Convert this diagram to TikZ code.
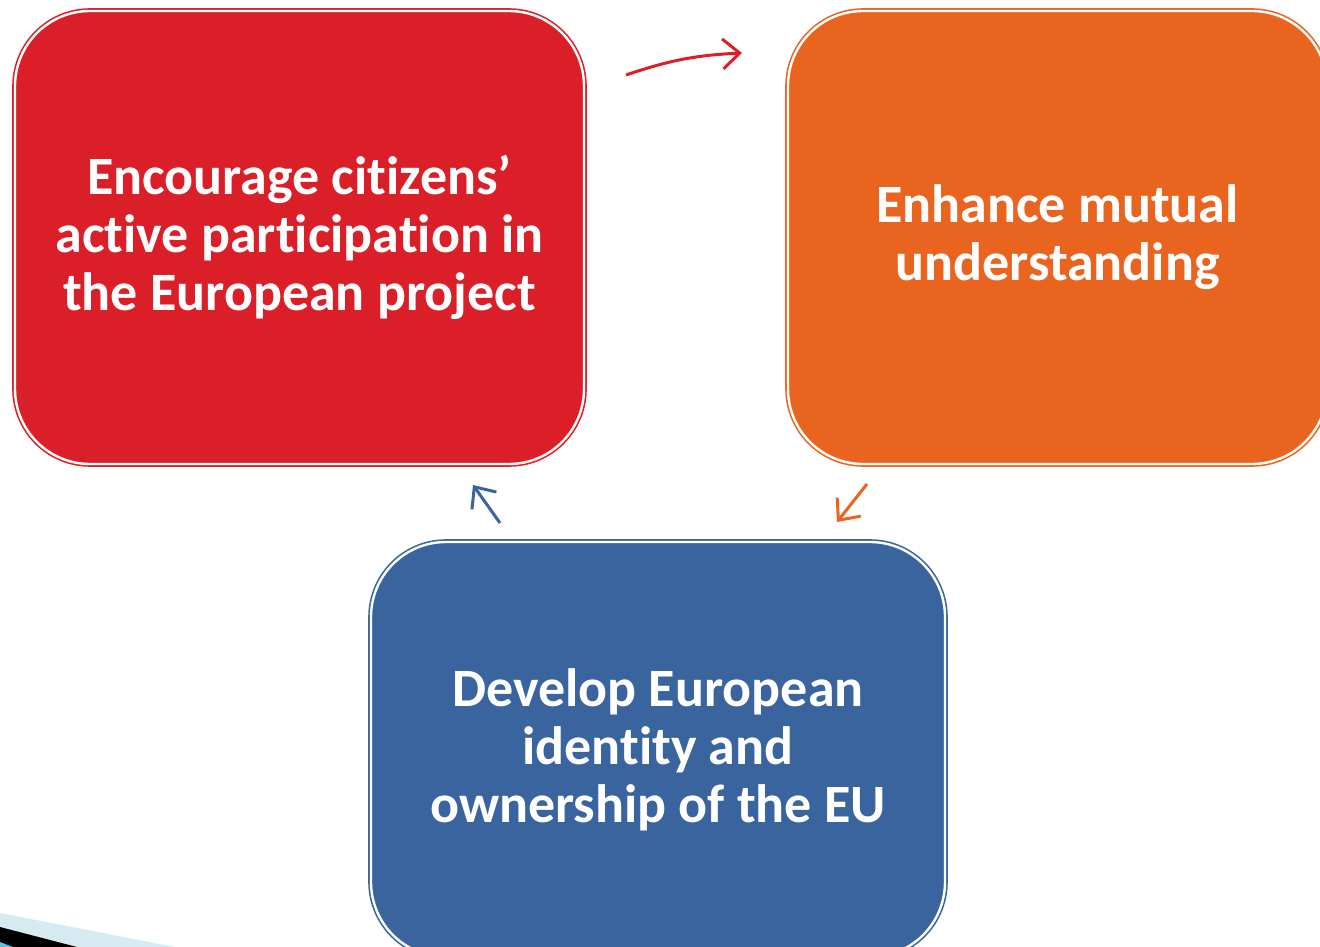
\documentclass[tikz,border=0pt]{standalone}
\usepackage{fontspec}
\setmainfont{Carlito}[Ligatures=NoCommon]
\usetikzlibrary{arrows.meta}
\definecolor{cred}{RGB}{218,31,40}
\definecolor{corange}{RGB}{233,100,30}
\definecolor{cblue}{RGB}{58,100,158}
\definecolor{clight}{RGB}{214,234,242}
\definecolor{ccyan}{RGB}{79,195,224}
\tikzset{
  box/.style={draw=#1, fill=#1, double=white, double distance=2.4pt, line width=1.6pt,
    rounded corners=75pt, text=white, align=center, inner sep=0pt,
    font=\fontsize{54}{58}\selectfont\bfseries},
  link/.style={draw=#1, line width=3pt, -{Straight Barb[length=17pt,width=30pt,line width=3pt]}}
}
\begin{document}
\begin{tikzpicture}[x=1pt,y=-1pt]
\useasboundingbox (0,0) rectangle (1320,947);
\clip (0,0) rectangle (1320,947);
\fill[clight] (0,913) -- (175,947) -- (0,947) -- cycle;
\fill[black] (0,927) -- (77,947) -- (0,947) -- cycle;
\fill[ccyan] (0,942) -- (13,947) -- (0,947) -- cycle;
\node[box=cred, minimum width=569pt, minimum height=453pt] (red) at (299.5,237.5)
  {Encourage citizens’\\active participation in\\the European project};
\node[box=corange, minimum width=539pt, minimum height=453pt] (orange) at (1057.5,237.5)
  {Enhance mutual\\understanding};
\node[box=cblue, minimum width=574pt, minimum height=415pt] (blue) at (658,749.5)
  {Develop European\\identity and\\ownership of the EU};
\coordinate (a1) at (626,75);
\coordinate (a2) at (742,53);
\coordinate (b1) at (867,484);
\coordinate (b2) at (837,522);
\coordinate (c1) at (500,523);
\coordinate (c2) at (473,485);
\draw[link=cred] (a1) to[bend left=8] (a2);
\draw[link=corange] (b1) -- (b2);
\draw[link=cblue] (c1) -- (c2);
\end{tikzpicture}
\end{document}
